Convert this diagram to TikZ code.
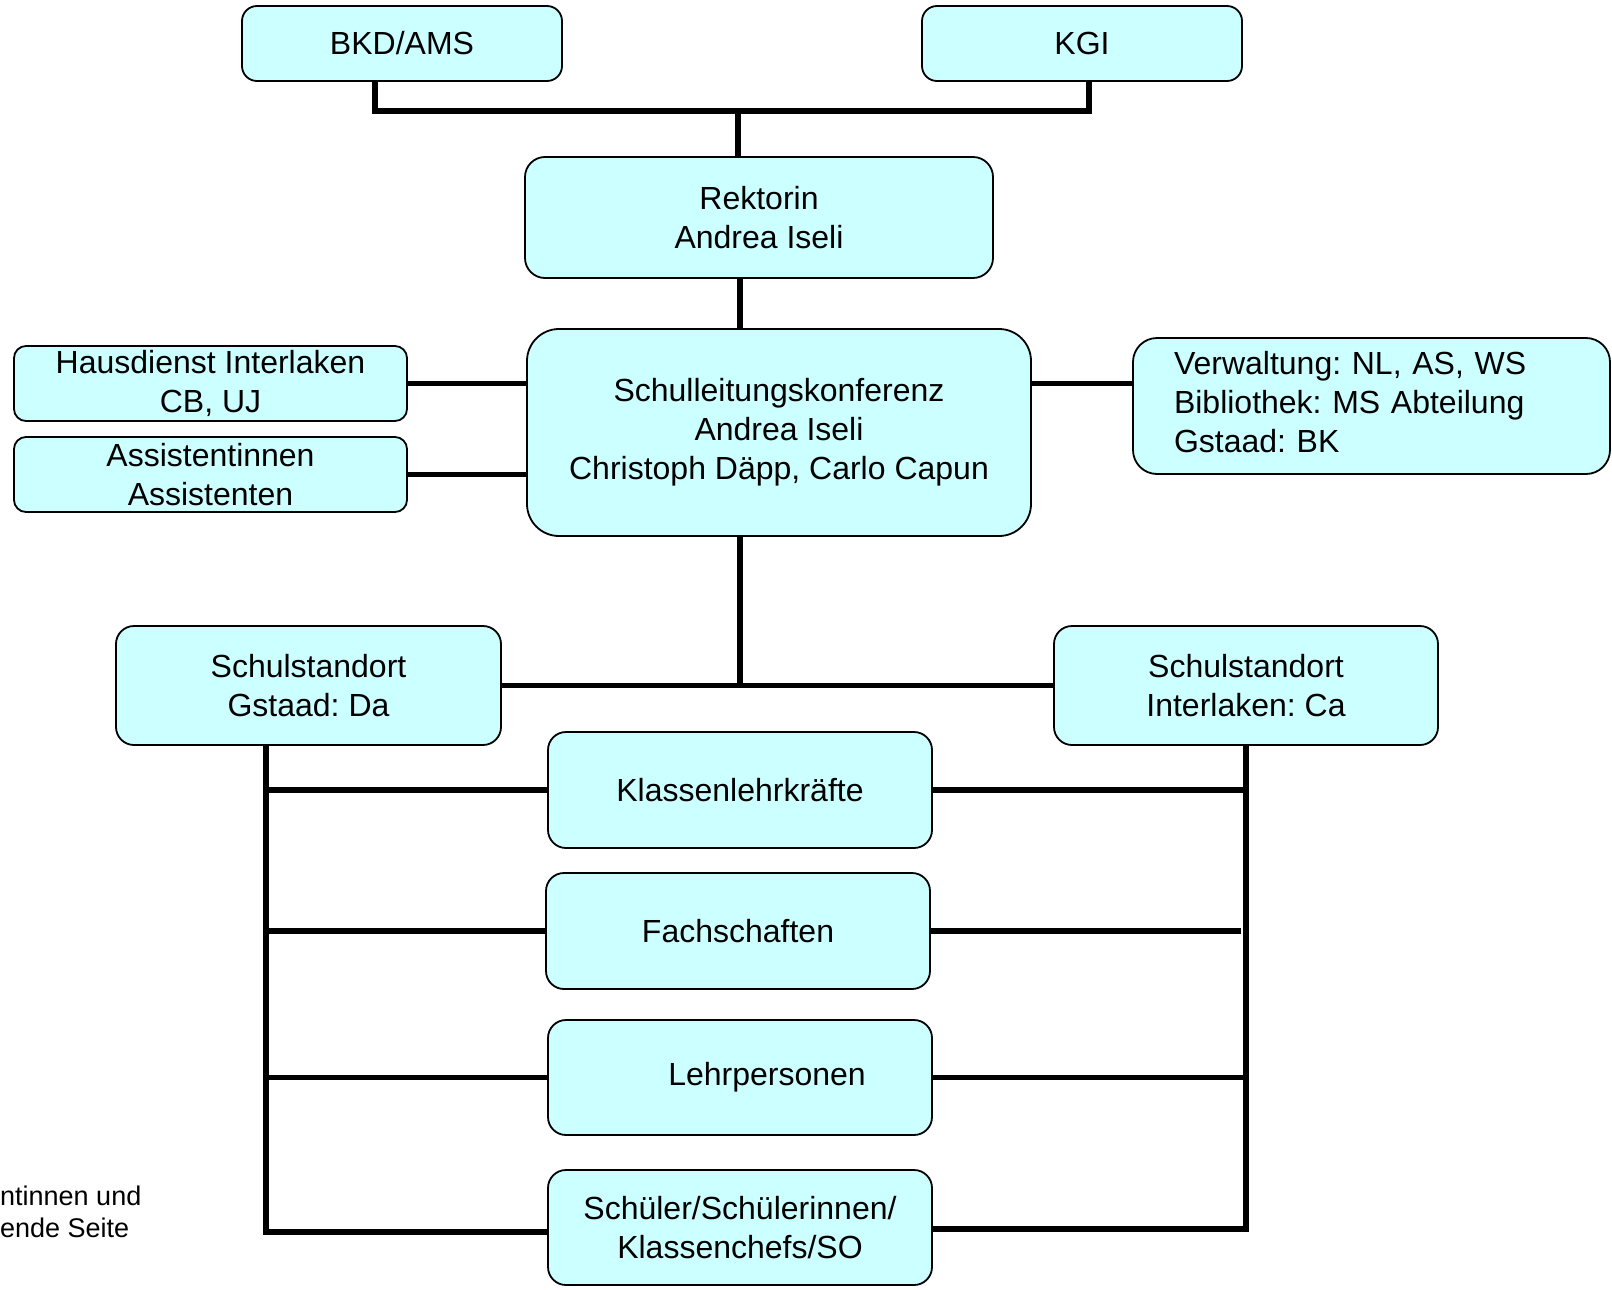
\documentclass[tikz,border=0pt]{standalone}
\usepackage{fontspec}
\setmainfont{Liberation Sans}
\frenchspacing
\usetikzlibrary{calc}
\definecolor{boxcyan}{RGB}{204,255,255}
\tikzstyle{line} = [draw, line width=5.5pt]
\tikzstyle{box} = [rectangle, draw, line width=1.8pt, rounded corners=15pt, fill=boxcyan, inner sep=0pt, align=center, font=\fontsize{32}{39}\selectfont]

\begin{document}
\begin{tikzpicture}[x=1pt, y=-1pt]
	\useasboundingbox (0,0) rectangle (1612,1290);
	
	\node [box, minimum width=320pt, minimum height=75pt] (bkd) at (402,43.5) {BKD/AMS};
	\node [box, minimum width=320pt, minimum height=75pt] (kgi) at (1082,43.5) {KGI};
	
	\node [box, minimum width=468pt, minimum height=121pt, rounded corners=20pt] (rekt) at (759,217.5) {Rektorin\\Andrea Iseli};
	\node [box, minimum width=504pt, minimum height=207pt, rounded corners=32pt] (slk) at (779,432.5) {Schulleitungskonferenz\\Andrea Iseli\\Christoph Däpp, Carlo Capun};
	
	\node [box, minimum width=393pt, minimum height=75pt, rounded corners=12pt] (haus) at (210.5,383.5) {Hausdienst Interlaken\\CB, UJ};
	\node [box, minimum width=393pt, minimum height=75pt, rounded corners=12pt] (assist) at (210.5,474.5) {Assistentinnen\\Assistenten};
	\node [box, minimum height=136pt, inner xsep=41pt, text width=395pt, align=left, rounded corners=24pt] (verw) at (1371.5,406) {Verwaltung: NL, AS, WS\\Bibliothek: MS Abteilung\\Gstaad: BK\vspace*{8pt}};
	
	\node [box, minimum width=385pt, minimum height=119pt, rounded corners=18pt] (gst) at (308.5,685.5) {Schulstandort\\Gstaad: Da};
	\node [box, minimum width=384pt, minimum height=119pt, rounded corners=18pt] (itl) at (1246,685.5) {Schulstandort\\Interlaken: Ca};
	
	\node [box, minimum width=384pt, minimum height=116pt, rounded corners=18pt] (klk) at (740,790) {Klassenlehrkräfte};
	\node [box, minimum width=384pt, minimum height=116pt, rounded corners=18pt] (fach) at (738,931) {Fachschaften};
	\node [box, minimum width=384pt, minimum height=115pt, rounded corners=18pt] (lehr) at (740,1077.5) {\hspace*{54pt}Lehrpersonen};
	\node [box, minimum width=384pt, minimum height=115pt, rounded corners=18pt] (sch) at (740,1227.5) {Schüler/Schülerinnen/\\Klassenchefs/SO};
	
	\node [anchor=base west, inner sep=0pt, align=left, font=\fontsize{27}{32}\selectfont] (rest) at (0,1237) {ntinnen und\\ende Seite};
	
	% junctions
	\coordinate (jtop) at (738,111);
	\coordinate (jstd) at (740,686);
	\coordinate (lbot) at (266,1232);
	\coordinate (rbot) at (1246,1229);
	
	\path [line] ([xshift=-27pt]bkd.south) |- (jtop) -| ([xshift=7pt]kgi.south);
	\path [line] (jtop) -- (jtop |- rekt.north);
	\path [line] (rekt.south -| jstd) -- (jstd |- slk.north);
	
	\path [line] (haus.east) -- (haus.east -| slk.west);
	\path [line] (assist.east) -- (assist.east -| slk.west);
	\path [line] (haus.east -| slk.east) -- (haus.east -| verw.west);
	
	\path [line] (slk.south -| jstd) -- (jstd);
	\path [line] (gst.east) -- (itl.west);
	
	\path [line] (gst.south -| lbot) -- (lbot) -- (lbot -| sch.west);
	\path [line] (itl.south) -- (rbot) -- (rbot -| sch.east);
	
	\path [line] (klk.west -| lbot) -- (klk.west);
	\path [line] (fach.west -| lbot) -- (fach.west);
	\path [line] (lehr.west -| lbot) -- (lehr.west);
	
	\path [line] (klk.east) -- (klk.east -| rbot);
	\path [line] (fach.east) -- ([xshift=-5pt]fach.east -| rbot);
	\path [line] (lehr.east) -- (lehr.east -| rbot);
	
\end{tikzpicture}
\end{document}
